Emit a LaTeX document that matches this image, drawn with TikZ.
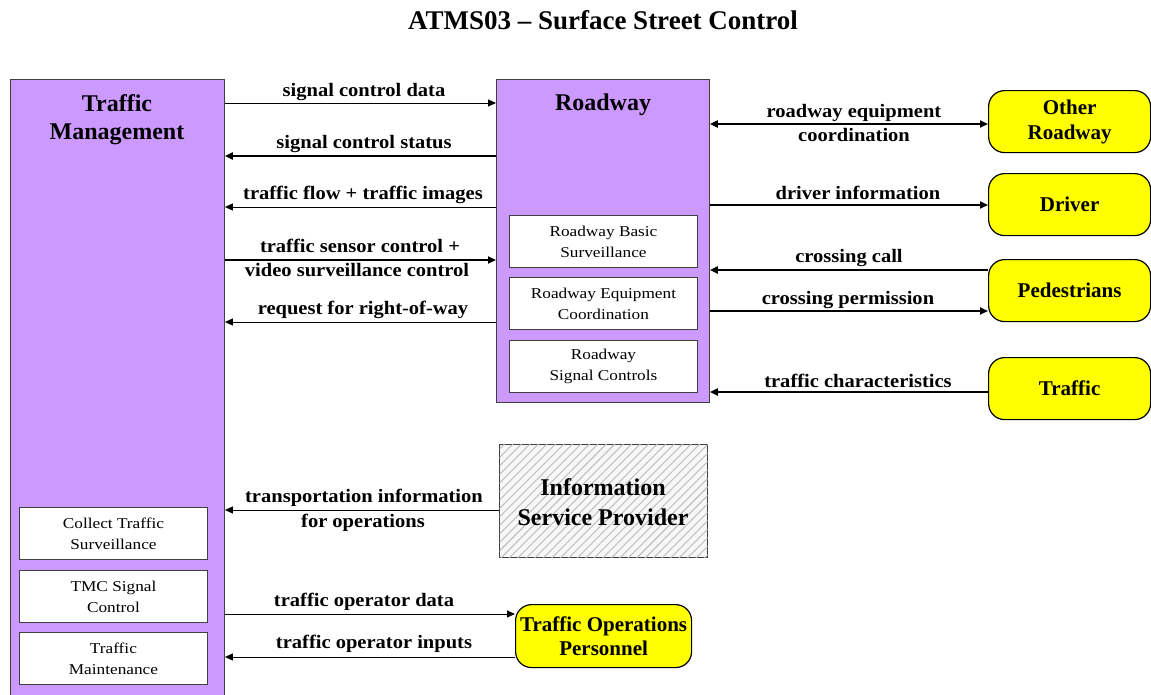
\documentclass[tikz,border=0pt]{standalone}
\usepackage{fontspec}
\setmainfont{Liberation Serif}
\newfontfamily\lblf[FakeStretch=1.08]{Liberation Serif}
\newfontfamily\smf[FakeStretch=1.15]{Liberation Serif}
\usetikzlibrary{arrows.meta,patterns.meta}
\definecolor{purp}{RGB}{204,153,255}
\definecolor{yel}{RGB}{255,255,0}
\begin{document}
\begin{tikzpicture}[x=1pt,y=-1pt,
  pbox/.style={draw=black!75, fill=purp, line width=0.9pt, anchor=north west, inner sep=0},
  wbox/.style={draw=black!75, fill=white, line width=0.9pt, anchor=north west, inner sep=0,
     minimum width=188pt, minimum height=52pt, align=center, font=\smf\fontsize{15}{21}\selectfont},
  ybox/.style={draw=black, fill=yel, line width=1.2pt, rounded corners=16pt, anchor=north west,
     inner sep=0, align=center, font=\bfseries\fontsize{21}{25}\selectfont},
  ttl/.style={font=\bfseries\fontsize{27}{30}\selectfont, inner sep=0, anchor=base},
  btl/.style={font=\bfseries\fontsize{24}{28}\selectfont, inner sep=0, anchor=base},
  lbl/.style={font=\lblf\bfseries\fontsize{19}{22}\selectfont, inner sep=0, anchor=base},
  thn/.style={line width=0.9pt},
  thk/.style={line width=2.2pt},
  arr/.style={-{Triangle[length=8pt,width=7pt]}},
  rarr/.style={{Triangle[length=8pt,width=7pt]}-},
  darr/.style={{Triangle[length=8pt,width=7pt]}-{Triangle[length=8pt,width=7pt]}}
]
\useasboundingbox (0,0) rectangle (1151,694);
\clip (0,0) rectangle (1151,694);

% title
\node[ttl] (title) at (603,29) {ATMS03 – Surface Street Control};

% Traffic Management
\node[pbox, minimum width=214pt, minimum height=640pt] (tm) at (10,79) {};
\node[btl] (tmt1) at (117,111) {Traffic};
\node[btl] (tmt2) at (117,139) {Management};
\node[wbox] (cts) at (19,507) {Collect Traffic\\Surveillance};
\node[wbox] (tsc) at (19,570) {TMC Signal\\Control};
\node[wbox] (tmn) at (19,632) {Traffic\\Maintenance};

% Roadway
\node[pbox, minimum width=213pt, minimum height=323pt] (rw) at (496,79) {};
\node[btl] (rwt) at (603,110) {Roadway};
\node[wbox] (rbs) at (509,215) {Roadway Basic\\Surveillance};
\node[wbox] (rec) at (509,277) {Roadway Equipment\\Coordination};
\node[wbox] (rsc) at (509,340) {Roadway\\Signal Controls};

% Information Service Provider
\node[draw=black!75, line width=1pt, fill=gray!6, anchor=north west, inner sep=0,
  minimum width=208pt, minimum height=113pt, align=center,
  font=\bfseries\fontsize{24}{30}\selectfont,
  postaction={pattern={Lines[angle=45,distance=6pt,line width=0.9pt]}, pattern color=gray!55}]
  (isp) at (499,444) {};
\node[btl] (ispt1) at (603,495) {Information};
\node[btl] (ispt2) at (603,525) {Service Provider};

% yellow terminators
\node[ybox, minimum width=162pt, minimum height=62pt] (orw) at (988,90) {Other\\Roadway};
\node[ybox, minimum width=162pt, minimum height=62pt] (drv) at (988,173) {Driver};
\node[ybox, minimum width=162pt, minimum height=62pt] (ped) at (988,259) {Pedestrians};
\node[ybox, minimum width=162pt, minimum height=62pt] (trf) at (988,357) {Traffic};
\node[ybox, minimum width=176pt, minimum height=63pt, font=\bfseries\fontsize{21}{24}\selectfont] (top) at (515,604) {Traffic Operations\\Personnel};

% left flows
\draw[thn, arr] (tm.east |- 0,103) -- (rw.west |- 0,103);
\node[lbl] (l1) at (364,96) {signal control data};
\draw[thk, rarr] (tm.east |- 0,156) -- (rw.west |- 0,156);
\node[lbl] (l2) at (364,148) {signal control status};
\draw[thn, rarr] (tm.east |- 0,207) -- (rw.west |- 0,207);
\node[lbl] (l3) at (363,199) {traffic flow + traffic images};
\draw[thk, arr] (tm.east |- 0,260) -- (rw.west |- 0,260);
\node[lbl] (l4a) at (360,252) {traffic sensor control +};
\node[lbl] (l4b) at (357,276) {video surveillance control};
\draw[thn, rarr] (tm.east |- 0,322) -- (rw.west |- 0,322);
\node[lbl] (l5) at (363,314) {request for right-of-way};

\draw[thn, rarr] (tm.east |- 0,510) -- (isp.west |- 0,510);
\node[lbl] (l6a) at (364,502) {transportation information};
\node[lbl] (l6b) at (363,527) {for operations};

\draw[thn, arr] (tm.east |- 0,614) -- (top.west |- 0,614);
\node[lbl] (l7) at (364,606) {traffic operator data};
\draw[thn, rarr] (tm.east |- 0,657) -- (top.west |- 0,657);
\node[lbl] (l8) at (374,648) {traffic operator inputs};

% right flows
\draw[thk, darr] (rw.east |- 0,124) -- (orw.west |- 0,124);
\node[lbl] (r1a) at (854,117) {roadway equipment};
\node[lbl] (r1b) at (854,141) {coordination};
\draw[thk, arr] (rw.east |- 0,205) -- (drv.west |- 0,205);
\node[lbl] (r2) at (858,199) {driver information};
\draw[thk, rarr] (rw.east |- 0,270) -- (ped.west |- 0,270);
\node[lbl] (r3) at (849,262) {crossing call};
\draw[thk, arr] (rw.east |- 0,311) -- (ped.west |- 0,311);
\node[lbl] (r4) at (848,304) {crossing permission};
\draw[thk, rarr] (rw.east |- 0,392) -- (trf.west |- 0,392);
\node[lbl] (r5) at (858,387) {traffic characteristics};
\end{tikzpicture}
\end{document}
